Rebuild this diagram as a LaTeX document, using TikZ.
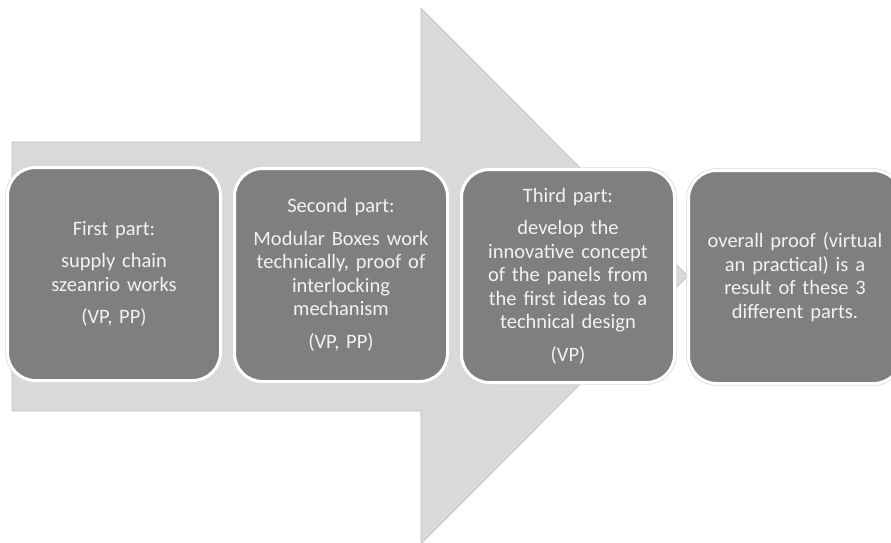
\documentclass[tikz,border=0pt]{standalone}
\usepackage{fontspec}
\setmainfont{Carlito}
\definecolor{arrowgray}{HTML}{D9D9D9}
\definecolor{arrowedge}{HTML}{BFBFBF}
\definecolor{boxgray}{HTML}{7F7F7F}
\definecolor{textwhite}{HTML}{F2F2F2}
\begin{document}
\begin{tikzpicture}[x=1pt, y=-1pt, line join=round,
	part/.style={rectangle, rounded corners=28pt, fill=boxgray, draw=white, line width=3pt,
		preaction={draw=gray!30, line width=4.4pt},
		minimum width=213pt, minimum height=213pt, text width=205pt, align=center,
		text=textwhite, font=\fontsize{20.5}{23.5}\selectfont}]
	\useasboundingbox (0,0) rectangle (891,542);
	% big arrow behind the parts
	\draw[fill=arrowgray, draw=arrowedge, line width=0.6pt] (12,142)--(421,142)--(421,8)--(688,276)--(421,544)--(421,411)--(12,411)--cycle;
	\node[part] (first) at (114,274) {First part:\\[9pt] supply chain\\ szeanrio works\\[9pt] (VP, PP)};
	\node[part] (second) at (341,275) {Second part:\\[9pt] Modular Boxes work\\ technically, proof of\\ interlocking\\ mechanism\\[9pt] (VP, PP)};
	\node[part] (third) at (568,276) {Third part:\\[9pt] develop the\\ innovative concept\\ of the panels from\\ the first ideas to a\\ technical design\\[9pt] (VP)};
	\node[part] (overall) at (795,277) {overall proof (virtual\\ an practical) is a\\ result of these 3\\ different parts.};
\end{tikzpicture}
\end{document}
